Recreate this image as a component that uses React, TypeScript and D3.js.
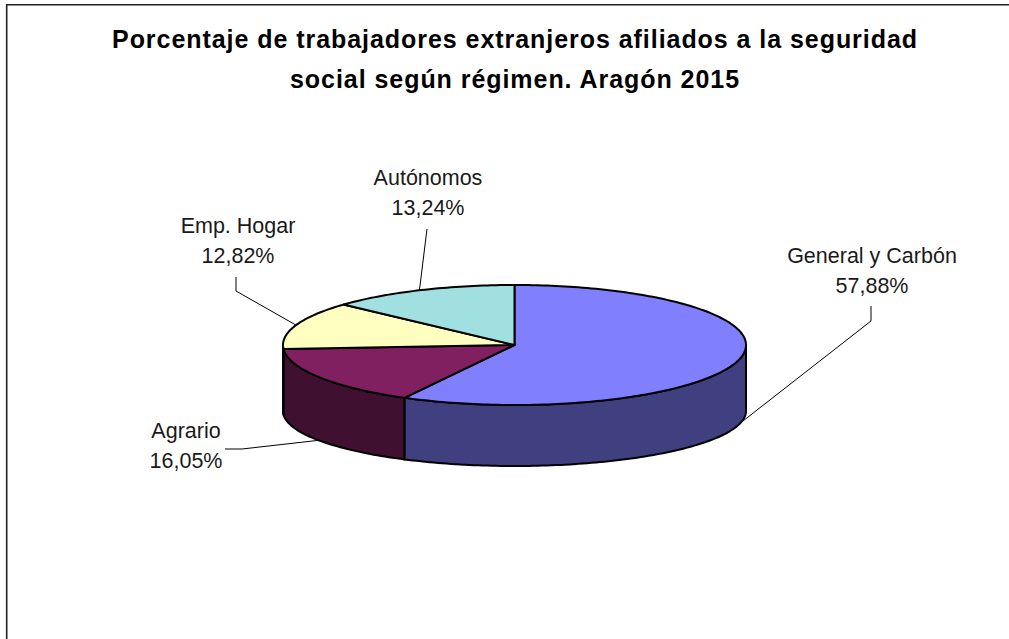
import React from "react";
import * as d3 from "d3";

const categories = ["General y Carbón", "Agrario", "Emp. Hogar", "Autónomos"];
const percentLabels = ["57,88%", "16,05%", "12,82%", "13,24%"];
const values = [57.88, 16.05, 12.82, 13.24];
const topColors = ["#8080FF", "#802060", "#FFFFC0", "#A0E0E0"];
const sideColors = ["#404080", "#401030", "#808060", "#507070"];
const titleLines = [
  "Porcentaje de trabajadores extranjeros afiliados a la seguridad",
  "social según régimen. Aragón 2015",
];

const W = 1009, H = 639;
const cx = 514.5, cy = 345, rx = 231.5, ry = 60;
const cyBottom = 411, ryBottom = 55;
const font = "'Liberation Sans', Arial, sans-serif";

const arcs = d3.pie<number>().sort(null)(values);
const project = (a: number): [number, number] => [
  cx + rx * Math.sin(a),
  cy - ry * Math.cos(a),
];
const projectBottom = (a: number): [number, number] => [
  cx + rx * Math.sin(a),
  cyBottom - ryBottom * Math.cos(a),
];
const sample = (a0: number, a1: number) => {
  const n = Math.max(2, Math.ceil(Math.abs(a1 - a0) / 0.02));
  return d3.range(n + 1).map((i) => a0 + ((a1 - a0) * i) / n);
};
const line = d3.line<[number, number]>();

const topPath = (a0: number, a1: number) =>
  line([[cx, cy], ...sample(a0, a1).map(project)])! + "Z";

// Side wall: only the part of the rim that faces the viewer (90° to 270°).
const sidePath = (a0: number, a1: number) => {
  const s = Math.max(a0, Math.PI / 2), e = Math.min(a1, (3 * Math.PI) / 2);
  if (e <= s) return null;
  const as = sample(s, e);
  return line([...as.map(project), ...as.slice().reverse().map(projectBottom)])! + "Z";
};

// Label leader polylines, each anchored on the pie rim.
const leaders: { angle: number; bottom: boolean; bend: [number, number][] }[] = [
  { angle: 1.79, bottom: true, bend: [[871, 321], [871, 306]] },
  { angle: 4.15, bottom: true, bend: [[242, 449], [225, 449]] },
  { angle: 5.05, bottom: false, bend: [[236, 291], [236, 277]] },
  { angle: 5.86, bottom: false, bend: [[427, 229]] },
];
const labelPos: [number, number][] = [[872, 263], [186, 438], [238, 233], [428, 185]];

export default function App() {
  return (
    <svg
      width={W}
      height={H}
      viewBox={`0 0 ${W} ${H}`}
      style={{ position: "absolute", left: 0, top: 0, display: "block" }}
    >
      <rect width={W} height={H} fill="#fff" />
      <path d={`M6.7 ${H}V4.8H${W}`} fill="none" stroke="#222" strokeWidth={1.6} />
      {titleLines.map((t, i) => (
        <text
          key={t}
          x={515}
          y={48 + i * 40}
          textAnchor="middle"
          fontFamily={font}
          fontWeight={700}
          fontSize={25}
          letterSpacing={0.95}
          fill="#000"
        >
          {t}
        </text>
      ))}
      {leaders.map((l, i) => (
        <path
          key={i}
          d={line([(l.bottom ? projectBottom : project)(l.angle), ...l.bend])!}
          fill="none"
          stroke="#000"
          strokeWidth={1}
        />
      ))}
      {arcs.map((d, i) => {
        const p = sidePath(d.startAngle, d.endAngle);
        return p ? (
          <path key={i} d={p} fill={sideColors[i]} stroke="#000" strokeWidth={2} strokeLinejoin="round" />
        ) : null;
      })}
      {arcs.map((d, i) => (
        <path
          key={i}
          d={topPath(d.startAngle, d.endAngle)}
          fill={topColors[i]}
          stroke="#000"
          strokeWidth={2}
          strokeLinejoin="round"
        />
      ))}
      {categories.map((c, i) => (
        <text key={c} textAnchor="middle" fontFamily={font} fontSize={21.5} fill="#1a1a1a">
          <tspan x={labelPos[i][0]} y={labelPos[i][1]}>{c}</tspan>
          <tspan x={labelPos[i][0]} y={labelPos[i][1] + 30}>{percentLabels[i]}</tspan>
        </text>
      ))}
    </svg>
  );
}
